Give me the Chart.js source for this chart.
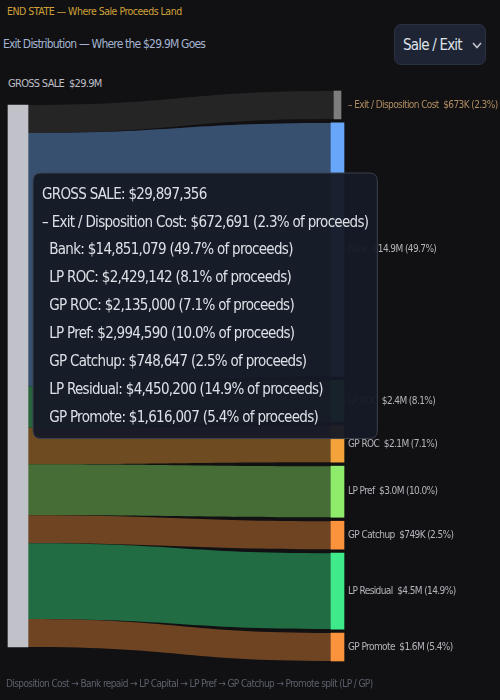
<!DOCTYPE html>
<html>
<head>
<meta charset="utf-8">
<script src="https://cdn.jsdelivr.net/npm/chart.js@4.4.1/dist/chart.umd.min.js"></script>
<style>
  html, body { margin: 0; padding: 0; width: 500px; height: 700px; overflow: hidden; background: #111113; }
  body { position: relative; font-family: "DejaVu Sans Condensed", "DejaVu Sans", sans-serif; font-stretch: condensed; }
  #chart { position: absolute; left: 0; top: 0; }
  .txt { position: absolute; white-space: nowrap; line-height: 1; }
  #title { left: 7px; top: 6px; font-size: 10.5px; letter-spacing: -0.5px; color: #cfa13a; }
  #subtitle { left: 3px; top: 38px; font-size: 12px; letter-spacing: -0.8px; color: #a4b3cf; }
  #gross { left: 8px; top: 78px; font-size: 11px; letter-spacing: -0.7px; color: #bebec6; }
  #footer { left: 6px; top: 679px; font-size: 10px; letter-spacing: -0.6px; color: #5b606c; }
  #picker {
    position: absolute; left: 394px; top: 24px; width: 92px; height: 41px;
    box-sizing: border-box; background: #1e2434; border: 1px solid #2a3142; border-radius: 7px;
    display: flex; align-items: center; padding-left: 8px; color: #dfe3ea;
    font-size: 15px; letter-spacing: -0.8px;
  }
  #picker svg { position: absolute; left: 77px; top: 17px; }
</style>
</head>
<body>
<div class="txt" id="title">END STATE — Where Sale Proceeds Land</div>
<div class="txt" id="subtitle">Exit Distribution — Where the $29.9M Goes</div>
<div id="picker">Sale / Exit
  <svg width="10" height="7" viewBox="0 0 10 7"><polyline points="1,1 5,5.5 9,1" fill="none" stroke="#bfc4cc" stroke-width="1.6"/></svg>
</div>
<div class="txt" id="gross"></div>
<canvas id="chart" width="500" height="700"></canvas>
<div class="txt" id="footer">Disposition Cost → Bank repaid → LP Capital → LP Pref → GP Catchup → Promote split (LP / GP)</div>

<script>
// where the sale proceeds go (in order, top to bottom)
const sourceName = "GROSS SALE";
const buckets = ["– Exit / Disposition Cost", "Bank", "LP ROC", "GP ROC", "LP Pref", "GP Catchup", "LP Residual", "GP Promote"];
const amounts = [672691, 14851079, 2429142, 2135000, 2994590, 748647, 4450200, 1616007];

const nodeColors = ["#7d7d7d", "#68a6fa", "#4ade80", "#f4a33a", "#8fec6a", "#fb923c", "#3eea89", "#fb923c"];
const flowColors = ["#252525", "#38506f", "#28633d", "#6f4b22", "#466d35", "#6e4423", "#226c44", "#6e4423"];

const FONT = '"DejaVu Sans Condensed", "DejaVu Sans", sans-serif';
const AXIS = 1000;   // y axis in layout units
const PAD = 7;       // gap between right nodes
const MIN_H = 49;    // smallest node height

const gross = amounts.reduce((a, b) => a + b, 0);

function money(v) {
  return "$" + v.toLocaleString("en-US");
}
function short(v) {
  if (v >= 1e6) return "$" + (v / 1e6).toFixed(1) + "M";
  return "$" + Math.round(v / 1e3) + "K";
}
function pct(v) {
  return (v / gross * 100).toFixed(1);
}

document.getElementById("gross").textContent = sourceName + "\u00a0\u00a0" + short(gross);

// stack the nodes: right column with gaps, left side packed and centred
function buildLayout() {
  const small = new Set();
  let ky = 0;
  for (let k = 0; k < 5; k++) {
    let big = 0;
    amounts.forEach((v, i) => { if (!small.has(i)) big += v; });
    ky = (AXIS - PAD * (amounts.length - 1) - MIN_H * small.size) / big;
    amounts.forEach((v, i) => { if (v * ky < MIN_H) small.add(i); });
  }
  const heights = amounts.map(v => Math.max(v * ky, MIN_H));
  const total = heights.reduce((a, b) => a + b, 0);
  let r = 0;
  let l = (AXIS - total) / 2;
  const out = heights.map(h => {
    const n = { right0: r, right1: r + h, left0: l, left1: l + h };
    r += h + PAD;
    l += h;
    return n;
  });
  return { nodes: out, left0: (AXIS - total) / 2, left1: (AXIS - total) / 2 + total };
}

const layout = buildLayout();

const datasets = [{
  label: sourceName,
  data: [[layout.left0, layout.left1], null],
  backgroundColor: "#c1c1c9",
  hoverBackgroundColor: "#c1c1c9",
  barThickness: 20,
  clip: false
}];
buckets.forEach((name, i) => {
  datasets.push({
    label: name,
    data: [null, [layout.nodes[i].right0, layout.nodes[i].right1]],
    backgroundColor: nodeColors[i],
    hoverBackgroundColor: nodeColors[i],
    barThickness: i === 0 ? 7 : 13,
    clip: false
  });
});

const flowPlugin = {
  id: "flows",
  beforeDatasetsDraw(chart) {
    const ctx = chart.ctx;
    const y = chart.scales.y;
    const src = chart.getDatasetMeta(0).data[0];
    const x0 = src.x + src.width / 2;
    ctx.save();
    layout.nodes.forEach((n, i) => {
      const bar = chart.getDatasetMeta(i + 1).data[1];
      const x1 = bar.x - bar.width / 2;
      const a0 = y.getPixelForValue(n.left0), a1 = y.getPixelForValue(n.left1);
      const b0 = y.getPixelForValue(n.right0), b1 = y.getPixelForValue(n.right1);
      const mx = (x0 + x1) / 2;
      ctx.beginPath();
      ctx.moveTo(x0, a0);
      ctx.bezierCurveTo(mx, a0, mx, b0, x1, b0);
      ctx.lineTo(x1, b1);
      ctx.bezierCurveTo(mx, b1, mx, a1, x0, a1);
      ctx.closePath();
      ctx.fillStyle = flowColors[i];
      ctx.fill();
    });
    ctx.restore();
  },
  afterDatasetsDraw(chart) {
    const ctx = chart.ctx;
    const y = chart.scales.y;
    ctx.save();
    ctx.font = "10px " + FONT;
    ctx.letterSpacing = "-0.6px";
    ctx.textBaseline = "middle";
    buckets.forEach((name, i) => {
      const bar = chart.getDatasetMeta(i + 1).data[1];
      const n = layout.nodes[i];
      const cy = (y.getPixelForValue(n.right0) + y.getPixelForValue(n.right1)) / 2;
      ctx.fillStyle = i === 0 ? "#b08d62" : "#b4b4bc";
      ctx.fillText(name + "  " + short(amounts[i]) + " (" + pct(amounts[i]) + "%)", bar.x + 6.5 + 4, cy);
    });
    ctx.restore();
  },
  beforeTooltipDraw(chart) {
    chart.ctx.letterSpacing = "-0.7px";
  }
};

Chart.Tooltip.positioners.fixedBox = function () {
  return { x: 41, y: 173, xAlign: "left", yAlign: "top" };
};

const chart = new Chart(document.getElementById("chart"), {
  type: "bar",
  data: { labels: [sourceName, "Buckets"], datasets: datasets },
  options: {
    responsive: false,
    animation: false,
    events: [],
    grouped: false,
    layout: { padding: { left: 18, right: 162.5, top: 91, bottom: 39 } },
    scales: {
      x: { display: false, offset: false },
      y: { display: false, min: 0, max: AXIS, reverse: true }
    },
    plugins: {
      legend: { display: false },
      tooltip: {
        position: "fixedBox",
        animation: false,
        backgroundColor: "rgba(22,26,38,0.96)",
        borderColor: "#3a404e",
        borderWidth: 1,
        cornerRadius: 8,
        caretSize: 0,
        caretPadding: 0,
        displayColors: false,
        titleColor: "#dde0e6",
        bodyColor: "#dde0e6",
        titleFont: { family: FONT, size: 15, weight: "normal", lineHeight: 1.856 },
        bodyFont: { family: FONT, size: 15, lineHeight: 1.856 },
        titleMarginBottom: 0,
        bodySpacing: 0,
        padding: { top: 8, bottom: 7, left: 9, right: 9 },
        callbacks: {
          title: () => sourceName + ": " + money(gross),
          label: () => buckets.map((name, i) => {
            const prefix = name.startsWith("–") ? "" : "  ";
            return prefix + name + ": " + money(amounts[i]) + " (" + pct(amounts[i]) + "% of proceeds)";
          })
        }
      }
    }
  },
  plugins: [flowPlugin]
});

// condensed look for the tooltip text (measured and drawn with the same spacing)
chart.ctx.letterSpacing = "-0.7px";
chart.tooltip.setActiveElements([{ datasetIndex: 0, index: 0 }], { x: 0, y: 0 });
chart.update();
</script>
</body>
</html>
